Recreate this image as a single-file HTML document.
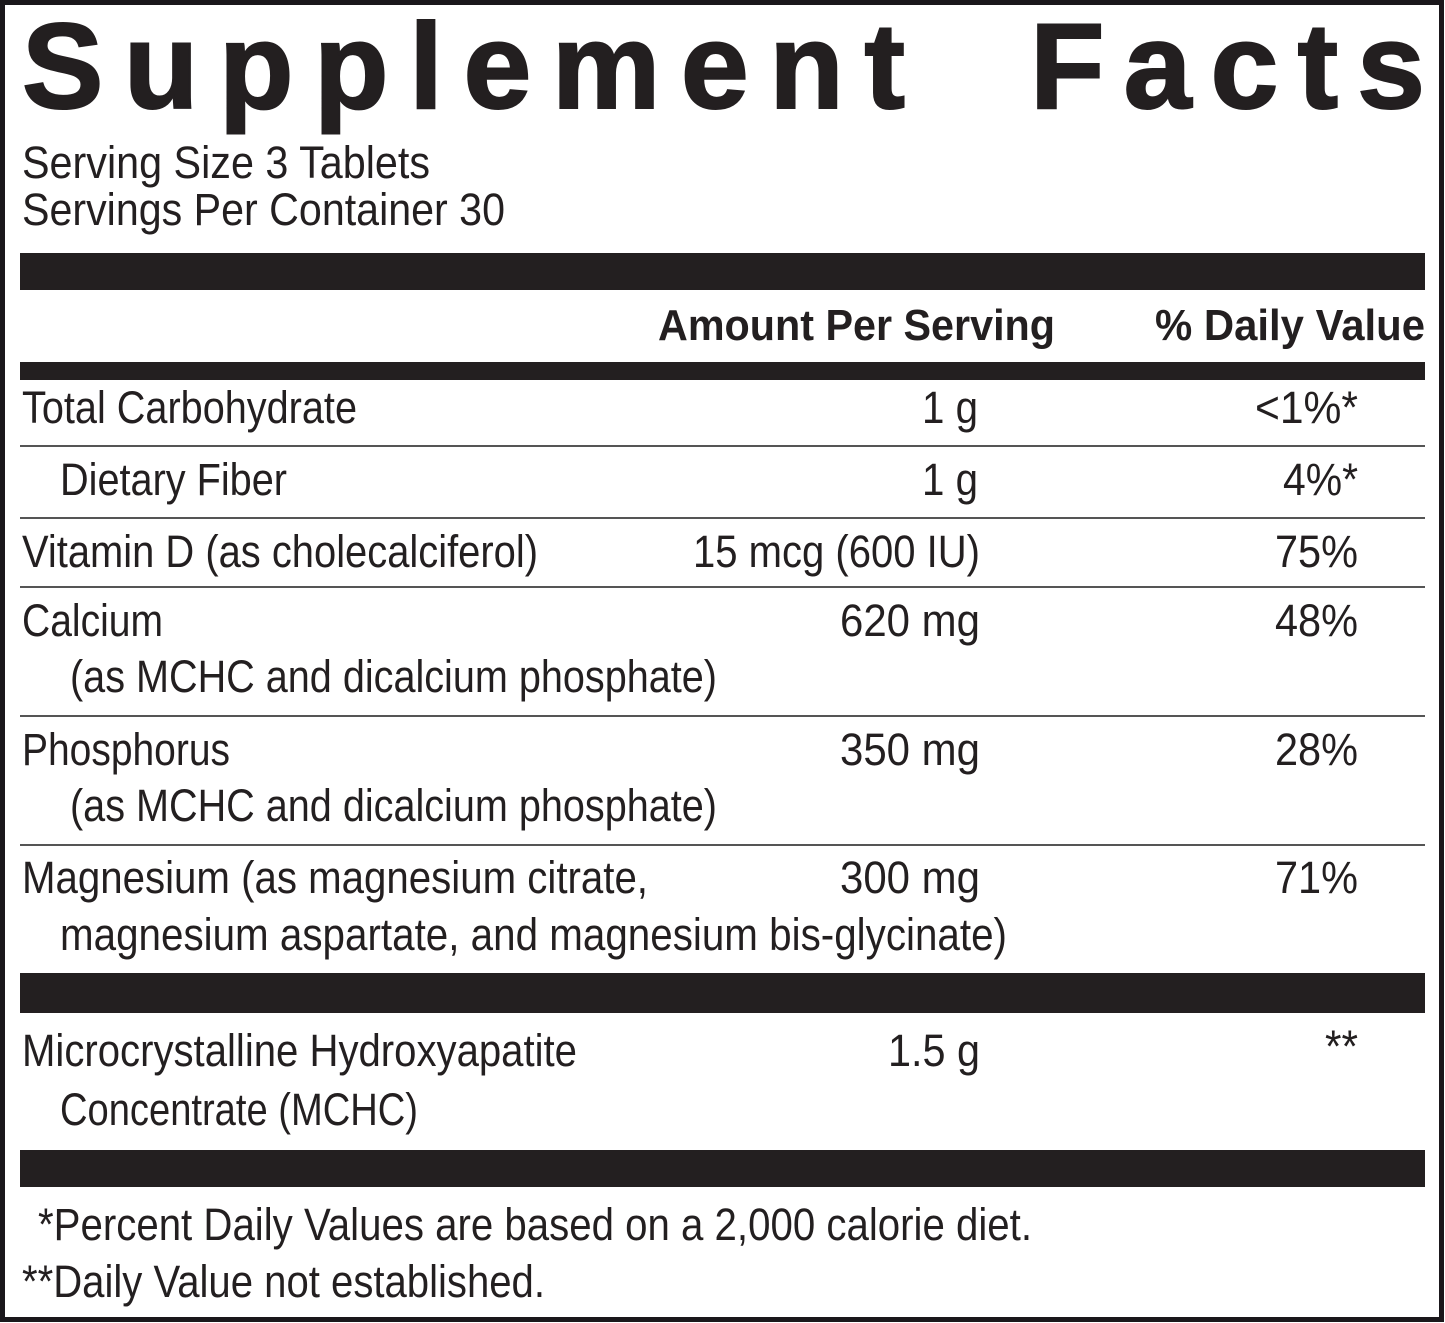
<!DOCTYPE html>
<html><head><style>html,body{margin:0;padding:0;background:#fff}svg{display:block}</style></head>
<body>
<svg width="1445" height="1323" xmlns="http://www.w3.org/2000/svg" font-family="'Liberation Sans', sans-serif" fill="#231f20">
<rect x="0" y="0" width="1445" height="1323" fill="#fff"/>
<rect x="2.5" y="2.5" width="1439" height="1317" fill="none" stroke="#1a171b" stroke-width="5"/>
<text x="22" y="108" font-size="122" font-weight="bold" textLength="883" lengthAdjust="spacing" stroke="#231f20" stroke-width="2">Supplement</text>
<text x="1030" y="108" font-size="122" font-weight="bold" textLength="395" lengthAdjust="spacing" stroke="#231f20" stroke-width="2">Facts</text>
<g font-size="45">
<text x="22" y="178" textLength="408" lengthAdjust="spacingAndGlyphs">Serving Size 3 Tablets</text>
<text x="22" y="225" textLength="483" lengthAdjust="spacingAndGlyphs">Servings Per Container 30</text>
</g>
<rect x="20" y="253" width="1405" height="37"/>
<g font-size="44" font-weight="bold">
<text x="658" y="340" textLength="397" lengthAdjust="spacingAndGlyphs">Amount Per Serving</text>
<text x="1155" y="340" textLength="270" lengthAdjust="spacingAndGlyphs">% Daily Value</text>
</g>
<rect x="20" y="362" width="1405" height="18"/>
<g fill="#555">
<rect x="20" y="445" width="1405" height="2"/>
<rect x="20" y="517" width="1405" height="2"/>
<rect x="20" y="586" width="1405" height="2"/>
<rect x="20" y="715" width="1405" height="2"/>
<rect x="20" y="844" width="1405" height="2"/>
</g>
<g font-size="45">
<text x="22" y="423" textLength="335" lengthAdjust="spacingAndGlyphs">Total Carbohydrate</text>
<text x="922" y="423" textLength="56" lengthAdjust="spacingAndGlyphs">1 g</text>
<text x="1255" y="423" textLength="103" lengthAdjust="spacingAndGlyphs">&lt;1%*</text>
<text x="60" y="495" textLength="227" lengthAdjust="spacingAndGlyphs">Dietary Fiber</text>
<text x="922" y="495" textLength="56" lengthAdjust="spacingAndGlyphs">1 g</text>
<text x="1283" y="495" textLength="75" lengthAdjust="spacingAndGlyphs">4%*</text>
<text x="22" y="567" textLength="516" lengthAdjust="spacingAndGlyphs">Vitamin D (as cholecalciferol)</text>
<text x="693" y="567" textLength="287" lengthAdjust="spacingAndGlyphs">15 mcg (600 IU)</text>
<text x="1275" y="567" textLength="83" lengthAdjust="spacingAndGlyphs">75%</text>
<text x="22" y="636" textLength="141" lengthAdjust="spacingAndGlyphs">Calcium</text>
<text x="840" y="636" textLength="140" lengthAdjust="spacingAndGlyphs">620 mg</text>
<text x="1275" y="636" textLength="83" lengthAdjust="spacingAndGlyphs">48%</text>
<text x="70" y="692" textLength="647" lengthAdjust="spacingAndGlyphs">(as MCHC and dicalcium phosphate)</text>
<text x="22" y="765" textLength="208" lengthAdjust="spacingAndGlyphs">Phosphorus</text>
<text x="840" y="765" textLength="140" lengthAdjust="spacingAndGlyphs">350 mg</text>
<text x="1275" y="765" textLength="83" lengthAdjust="spacingAndGlyphs">28%</text>
<text x="70" y="821" textLength="647" lengthAdjust="spacingAndGlyphs">(as MCHC and dicalcium phosphate)</text>
<text x="22" y="893" textLength="626" lengthAdjust="spacingAndGlyphs">Magnesium (as magnesium citrate,</text>
<text x="840" y="893" textLength="140" lengthAdjust="spacingAndGlyphs">300 mg</text>
<text x="1275" y="893" textLength="83" lengthAdjust="spacingAndGlyphs">71%</text>
<text x="60" y="950" textLength="947" lengthAdjust="spacingAndGlyphs">magnesium aspartate, and magnesium bis-glycinate)</text>
</g>
<rect x="20" y="973" width="1405" height="40"/>
<g font-size="45">
<text x="22" y="1066" textLength="555" lengthAdjust="spacingAndGlyphs">Microcrystalline Hydroxyapatite</text>
<text x="888" y="1066" textLength="92" lengthAdjust="spacingAndGlyphs">1.5 g</text>
<text x="1325" y="1062" textLength="33" lengthAdjust="spacingAndGlyphs">**</text>
<text x="60" y="1125" textLength="358" lengthAdjust="spacingAndGlyphs">Concentrate (MCHC)</text>
</g>
<rect x="20" y="1150" width="1405" height="37"/>
<g font-size="45">
<text x="38" y="1240" textLength="994" lengthAdjust="spacingAndGlyphs">*Percent Daily Values are based on a 2,000 calorie diet.</text>
<text x="22" y="1297" textLength="523" lengthAdjust="spacingAndGlyphs">**Daily Value not established.</text>
</g>
</svg>
</body></html>
